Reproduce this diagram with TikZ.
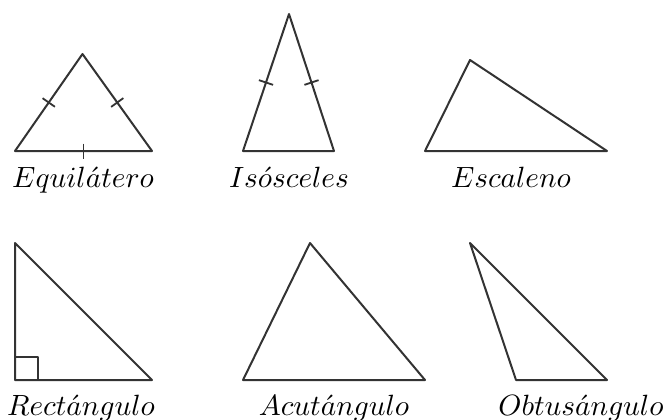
\documentclass[tikz,border=0pt]{standalone}
\usepackage{graphicx}
\usetikzlibrary{calc}
\definecolor{linegray}{HTML}{333333}
\tikzset{
  tri/.style={draw=linegray, line width=2pt, line join=round},
  tick/.style={draw=linegray, line width=1.8pt},
  lbl/.style={anchor=base, inner sep=0pt},
}
\newcommand{\tickmark}[2]{\draw[tick] ($(#1)!.5!(#2)!7.5pt!90:(#2)$) -- ($(#1)!.5!(#2)!7.5pt!-90:(#2)$);}
\newcommand{\lbltext}[1]{\scalebox{2.93}{$#1$}}
\begin{document}
\begin{tikzpicture}[x=1pt,y=-1pt]
\useasboundingbox (0,0) rectangle (670,420);
% Equilatero
\coordinate (e1) at (15,151); \coordinate (e2) at (152,151); \coordinate (e3) at (82.5,54);
\draw[tri] (e1) -- (e2) -- (e3) -- cycle;
\tickmark{e1}{e3}
\tickmark{e3}{e2}
\tickmark{e1}{e2}
\node[lbl] (le) at (83,187) {\lbltext{Equil\acute{a}tero}};
% Isosceles
\coordinate (i1) at (243,151); \coordinate (i2) at (334,151); \coordinate (i3) at (289,14);
\draw[tri] (i1) -- (i2) -- (i3) -- cycle;
\tickmark{i1}{i3}
\tickmark{i3}{i2}
\node[lbl] (li) at (289,187) {\lbltext{Is\acute{o}sceles}};
% Escaleno
\coordinate (s1) at (425,151); \coordinate (s2) at (607,151); \coordinate (s3) at (470,60);
\draw[tri] (s1) -- (s2) -- (s3) -- cycle;
\node[lbl] (ls) at (511,187) {\lbltext{Escaleno}};
% Rectangulo
\coordinate (r1) at (15,380); \coordinate (r2) at (152,380); \coordinate (r3) at (15,243);
\draw[tri] (r1) -- (r2) -- (r3) -- cycle;
\draw[tri] (15,357) -- (38,357) -- (38,380);
\node[lbl] (lr) at (81,415) {\lbltext{Rect\acute{a}ngulo}};
% Acutangulo
\coordinate (a1) at (243,380); \coordinate (a2) at (425,380); \coordinate (a3) at (310,243);
\draw[tri] (a1) -- (a2) -- (a3) -- cycle;
\node[lbl] (la) at (334,415) {\lbltext{Acut\acute{a}ngulo}};
% Obtusangulo
\coordinate (o1) at (516,380); \coordinate (o2) at (607,380); \coordinate (o3) at (470,243);
\draw[tri] (o1) -- (o2) -- (o3) -- cycle;
\node[lbl] (lo) at (581,415) {\lbltext{Obtus\acute{a}ngulo}};
\end{tikzpicture}
\end{document}
